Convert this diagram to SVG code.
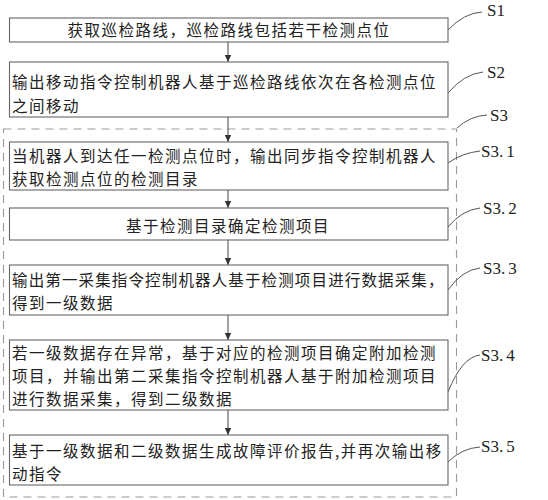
<svg xmlns="http://www.w3.org/2000/svg" width="548" height="500" viewBox="0 0 548 500">
<defs>
<marker id="arr" markerWidth="8" markerHeight="8" refX="7" refY="4" orient="auto" markerUnits="userSpaceOnUse">
<path d="M0,0.8 L7,4 L0,7.2 Z" fill="#333"/>
</marker>
<style>
.box{fill:#fff;stroke:#666;stroke-width:1.1}
.t{font-family:"Noto Sans CJK SC","Noto Sans CJK JP",sans-serif;font-size:15.5px;letter-spacing:1.5px;fill:#222}
.lb{font-family:"Liberation Serif",serif;font-size:17px;fill:#222}
.ld{fill:none;stroke:#555;stroke-width:1}
.con{stroke:#444;stroke-width:1;fill:none;marker-end:url(#arr)}
.dash{fill:none;stroke:#999;stroke-width:1.1;stroke-dasharray:8 6}
</style>
</defs>
<rect width="548" height="500" fill="#fff"/>
<g id="S3-group">
<rect class="dash" x="3.5" y="129" width="453" height="368"/>
</g>
<g id="connectors">
<line class="con" x1="228" y1="42" x2="228" y2="62"/>
<line class="con" x1="228" y1="117" x2="228" y2="142"/>
<line class="con" x1="228" y1="190" x2="228" y2="208"/>
<line class="con" x1="228" y1="240" x2="228" y2="265"/>
<line class="con" x1="228" y1="315" x2="228" y2="340"/>
<line class="con" x1="228" y1="410" x2="228" y2="435"/>
</g>
<g id="leaders">
<path class="ld" d="M448,30 Q464,13 482,12"/>
<path class="ld" d="M448,93 Q464,74 483,72"/>
<path class="ld" d="M457,128 Q470,116 487,115"/>
<path class="ld" d="M448,163 Q462,153 480,151"/>
<path class="ld" d="M448,227 Q462,210 480,208"/>
<path class="ld" d="M448,290 Q462,270 480,268"/>
<path class="ld" d="M448,392 Q462,357 480,355"/>
<path class="ld" d="M448,462 Q462,448 480,447"/>
</g>
<g id="labels">
<text class="lb" x="487" y="16">S1</text>
<text class="lb" x="487" y="78">S2</text>
<text class="lb" x="490" y="121">S3</text>
<text class="lb" x="481" y="157">S3.<tspan dx="3">1</tspan></text>
<text class="lb" x="483" y="214">S3.<tspan dx="3">2</tspan></text>
<text class="lb" x="483" y="274">S3.<tspan dx="3">3</tspan></text>
<text class="lb" x="481" y="361">S3.<tspan dx="3">4</tspan></text>
<text class="lb" x="481" y="452">S3.<tspan dx="3">5</tspan></text>
</g>
<g id="S1">
<rect class="box" x="9.5" y="18" width="438.5" height="24"/>
<text class="t" x="229" y="36" text-anchor="middle">获取巡检路线，巡检路线包括若干检测点位</text>
</g>
<g id="S2">
<rect class="box" x="9.5" y="62" width="438.5" height="55"/>
<text class="t" x="12" y="88">输出移动指令控制机器人基于巡检路线依次在各检测点位</text>
<text class="t" x="12" y="112">之间移动</text>
</g>
<g id="S3.1">
<rect class="box" x="9.5" y="142" width="438.5" height="48"/>
<text class="t" x="12" y="162">当机器人到达任一检测点位时，输出同步指令控制机器人</text>
<text class="t" x="12" y="185">获取检测点位的检测目录</text>
</g>
<g id="S3.2">
<rect class="box" x="9.5" y="208" width="438.5" height="32"/>
<text class="t" x="228" y="232" text-anchor="middle">基于检测目录确定检测项目</text>
</g>
<g id="S3.3">
<rect class="box" x="9.5" y="265" width="438.5" height="50"/>
<text class="t" x="12" y="286" textLength="433" lengthAdjust="spacing">输出第一采集指令控制机器人基于检测项目进行数据采集，</text>
<text class="t" x="12" y="309">得到一级数据</text>
</g>
<g id="S3.4">
<rect class="box" x="9.5" y="340" width="438.5" height="70"/>
<text class="t" x="12" y="359">若一级数据存在异常，基于对应的检测项目确定附加检测</text>
<text class="t" x="12" y="382">项目，并输出第二采集指令控制机器人基于附加检测项目</text>
<text class="t" x="12" y="405">进行数据采集，得到二级数据</text>
</g>
<g id="S3.5">
<rect class="box" x="9.5" y="435" width="438.5" height="50"/>
<text class="t" x="12" y="457">基于一级数据和二级数据生成故障评价报告,并再次输出移</text>
<text class="t" x="12" y="480">动指令</text>
</g>
</svg>
